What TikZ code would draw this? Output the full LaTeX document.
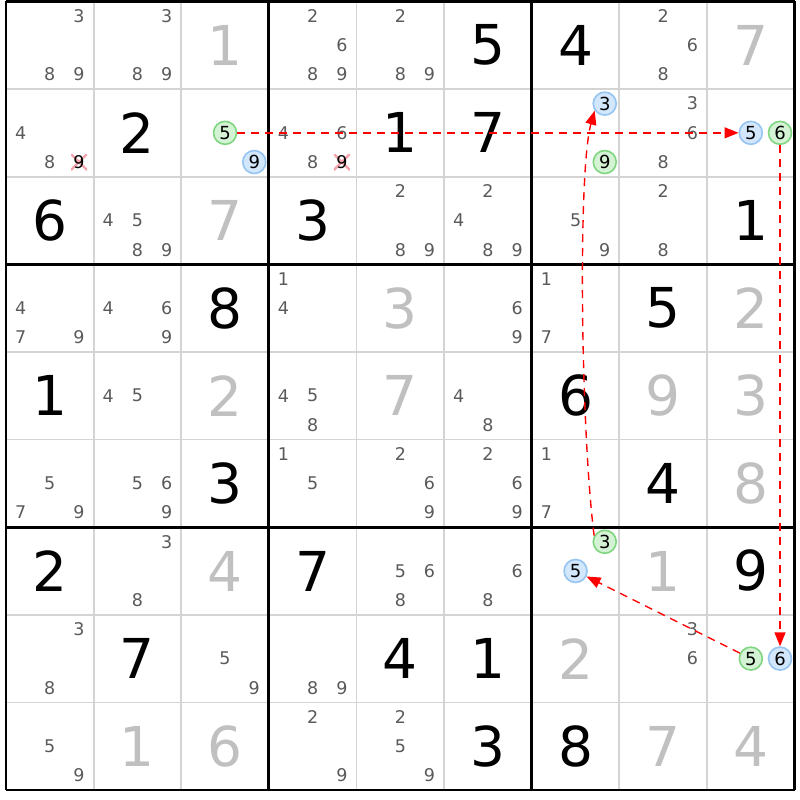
\documentclass[tikz,border=0pt]{standalone}
\usepackage{fontspec}
\setmainfont{DejaVu Sans}
\usetikzlibrary{arrows.meta}

\definecolor{givengray}{HTML}{C0C0C0}
\definecolor{pencilgray}{HTML}{5A5A5A}
\definecolor{thingray}{HTML}{D4D4D4}
\definecolor{ongreen}{HTML}{D4F2D4}
\definecolor{ongreenline}{HTML}{80D680}
\definecolor{offblue}{HTML}{D2E6FC}
\definecolor{offblueline}{HTML}{96C4F2}
\definecolor{strikepink}{HTML}{F4A3AB}

% centre of candidate #3 in row #1, column #2
\newcommand{\candxy}[3]{%
  \pgfmathsetmacro{\candx}{6+(#2-1)*87.67+(mod(#3-1,3)+0.5)*29.22}%
  \pgfmathsetmacro{\candy}{1+(#1-1)*87.67+(int((#3-1)/3)+0.5)*29.22}}

\tikzset{
  solved/.style={inner sep=0pt,font=\fontsize{55}{55}\selectfont,text=black},
  given/.style={solved,text=givengray},
  pencil/.style={inner sep=0pt,font=\fontsize{17.5}{17.5}\selectfont,text=pencilgray},
  ongrn/.style={circle,draw=ongreenline,fill=ongreen,line width=1.6pt,minimum size=23pt,inner sep=0pt,font=\fontsize{18}{18}\selectfont,text=black},
  offblu/.style={ongrn,draw=offblueline,fill=offblue},
  struck/.style={pencil,text=black,minimum width=16pt,minimum height=16pt,
    path picture={\draw[strikepink,line width=2.4pt]
      (path picture bounding box.south west) -- (path picture bounding box.north east)
      (path picture bounding box.north west) -- (path picture bounding box.south east);}},
  link/.style={red,line width=1.4pt,dash pattern=on 8pt off 6pt,-{Triangle[length=14pt,width=11pt]}}
}

\begin{document}
\begin{tikzpicture}[x=1pt,y=-1pt]

    \fill[white] (0,0) rectangle (800,800);

    % grid
    \foreach \i in {1,...,8} {
        \draw[thingray,line width=1.8pt] ({6+\i*87.67},1) -- ({6+\i*87.67},790);
        \draw[thingray,line width=1.8pt] (6,{1+\i*87.67}) -- (795,{1+\i*87.67});
    }
    \foreach \i in {0,3,6,9} {
        \draw[black,line width=2.8pt] ({6+\i*87.67},1) -- ({6+\i*87.67},790);
        \draw[black,line width=2.8pt] (6,{1+\i*87.67}) -- (795,{1+\i*87.67});
    }

    % placed digits
    \foreach \r/\c/\d in {1/6/5,1/7/4,2/2/2,2/5/1,2/6/7,3/1/6,3/4/3,3/9/1,4/3/8,4/8/5,5/1/1,5/7/6,
                          6/3/3,6/8/4,7/1/2,7/4/7,7/9/9,8/2/7,8/5/4,8/6/1,9/6/3,9/7/8}
        \node[solved] (s\r\c) at ({6+(\c-0.5)*87.67},{1+(\r-0.5)*87.67}) {\d};
    \foreach \r/\c/\d in {1/3/1,1/9/7,3/3/7,4/5/3,4/9/2,5/3/2,5/5/7,5/8/9,5/9/3,6/9/8,
                          7/3/4,7/8/1,8/7/2,9/2/1,9/3/6,9/8/7,9/9/4}
        \node[given] (v\r\c) at ({6+(\c-0.5)*87.67},{1+(\r-0.5)*87.67}) {\d};

    % candidates
    \foreach \r/\c/\ds in {1/1/{3,8,9},1/2/{3,8,9},1/4/{2,6,8,9},1/5/{2,8,9},1/8/{2,6,8},
                           2/1/{4,8},2/4/{4,6,8},2/8/{3,6,8},
                           3/2/{4,5,8,9},3/5/{2,8,9},3/6/{2,4,8,9},3/7/{5,9},3/8/{2,8},
                           4/1/{4,7,9},4/2/{4,6,9},4/4/{1,4},4/6/{6,9},4/7/{1,7},
                           5/2/{4,5},5/4/{4,5,8},5/6/{4,8},
                           6/1/{5,7,9},6/2/{5,6,9},6/4/{1,5},6/5/{2,6,9},6/6/{2,6,9},6/7/{1,7},
                           7/2/{3,8},7/5/{5,6,8},7/6/{6,8},
                           8/1/{3,8},8/3/{5,9},8/4/{8,9},8/8/{3,6},
                           9/1/{5,9},9/4/{2,9},9/5/{2,5,9}}
        \foreach \d in \ds {
            \candxy{\r}{\c}{\d}
            \node[pencil] (p\r\c\d) at (\candx,\candy) {\d};
        }

    % eliminated candidates
    \candxy{2}{1}{9} \node[struck] (x219) at (\candx,\candy) {9};
    \candxy{2}{4}{9} \node[struck] (x249) at (\candx,\candy) {9};

    % coloured candidates
    \candxy{2}{3}{5} \node[ongrn] (g235) at (\candx,\candy) {5};
    \candxy{2}{3}{9} \node[offblu] (b239) at (\candx,\candy) {9};
    \candxy{2}{7}{3} \node[offblu] (b273) at (\candx,\candy) {3};
    \candxy{2}{7}{9} \node[ongrn] (g279) at (\candx,\candy) {9};
    \candxy{2}{9}{5} \node[offblu] (b295) at (\candx,\candy) {5};
    \candxy{2}{9}{6} \node[ongrn] (g296) at (\candx,\candy) {6};
    \candxy{7}{7}{3} \node[ongrn] (g773) at (\candx,\candy) {3};
    \candxy{7}{7}{5} \node[offblu] (b775) at (\candx,\candy) {5};
    \candxy{8}{9}{5} \node[ongrn] (g895) at (\candx,\candy) {5};
    \candxy{8}{9}{6} \node[offblu] (b896) at (\candx,\candy) {6};

    % chain
    \draw[link] (g235) -- (b295);
    \draw[link] (g296) -- (b896);
    \draw[link] (g895) -- (b775);
    \draw[link] (g773.150) .. controls (581,430) and (578,170) .. (b273.215);

\end{tikzpicture}
\end{document}
